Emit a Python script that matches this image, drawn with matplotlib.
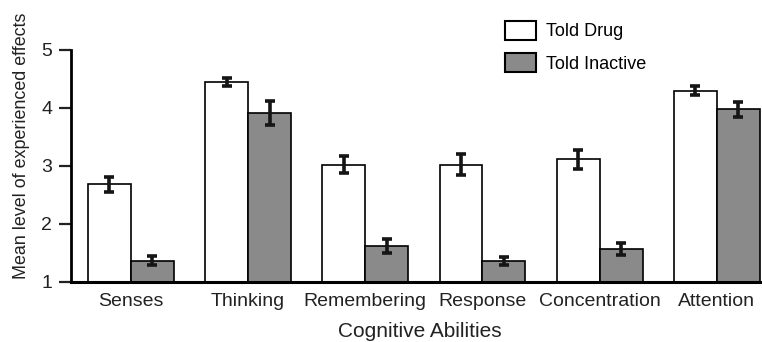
import matplotlib
matplotlib.use("Agg")
import matplotlib.pyplot as plt
import numpy as np

categories = ["Senses", "Thinking", "Remembering", "Response", "Concentration", "Attention"]
told_drug = [2.68, 4.45, 3.02, 3.02, 3.11, 4.30]
told_drug_err = [0.13, 0.07, 0.15, 0.18, 0.17, 0.08]
told_inactive = [1.36, 3.91, 1.61, 1.36, 1.56, 3.98]
told_inactive_err = [0.08, 0.21, 0.12, 0.07, 0.10, 0.13]
yticks = [1, 2, 3, 4, 5]

plt.rcParams['font.family'] = ['Liberation Sans', 'DejaVu Sans']

fig = plt.figure(figsize=(7.62, 3.42), dpi=100)
ax = fig.add_axes([71/762, (342-281.7)/342, 1 - 71/762 + 0.01, (281.7-50)/342])

x = np.arange(len(categories))
w = 0.366
bottom = 1
ekw = dict(elinewidth=2.6, capthick=2.6, ecolor='#151515')
ax.bar(x - w/2, np.array(told_drug) - bottom, w, bottom=bottom, color='white', edgecolor='black',
       linewidth=1.2, yerr=told_drug_err, capsize=3.8, error_kw=ekw, label='Told Drug', zorder=2)
ax.bar(x + w/2, np.array(told_inactive) - bottom, w, bottom=bottom, color='#8a8a8a', edgecolor='black',
       linewidth=1.2, yerr=told_inactive_err, capsize=3.8, error_kw=ekw, label='Told Inactive', zorder=2)

ax.set_ylim(1, 5)
ax.set_xlim(-0.511, 5.45)
ax.set_yticks(yticks)
ax.set_xticks(x)
ax.set_xticklabels(categories)
ax.tick_params(axis='x', length=0, labelsize=14, pad=8, colors='#222222')
ax.tick_params(axis='y', length=8.5, width=1.6, labelsize=14, pad=5, colors='#222222')
for s in ['top', 'right']:
    ax.spines[s].set_visible(False)
ax.spines['left'].set_linewidth(2.0)
ax.spines['bottom'].set_linewidth(2.2)
ax.set_ylabel("Mean level of experienced effects", fontsize=12.9, color='#222222')
ax.yaxis.set_label_coords(-0.058, 0.585)
ax.set_xlabel("Cognitive Abilities", fontsize=15, color='#222222', labelpad=9)

leg = ax.legend(loc='upper left', bbox_to_anchor=(505/762, (342-21)/342), bbox_transform=fig.transFigure,
                frameon=False, fontsize=13, handlelength=1.74, handleheight=1.22, labelspacing=0.72,
                handletextpad=0.55, borderpad=0, borderaxespad=0)
for p in leg.get_patches():
    p.set_linewidth(1.5)

fig.savefig("out.png", dpi=100)
